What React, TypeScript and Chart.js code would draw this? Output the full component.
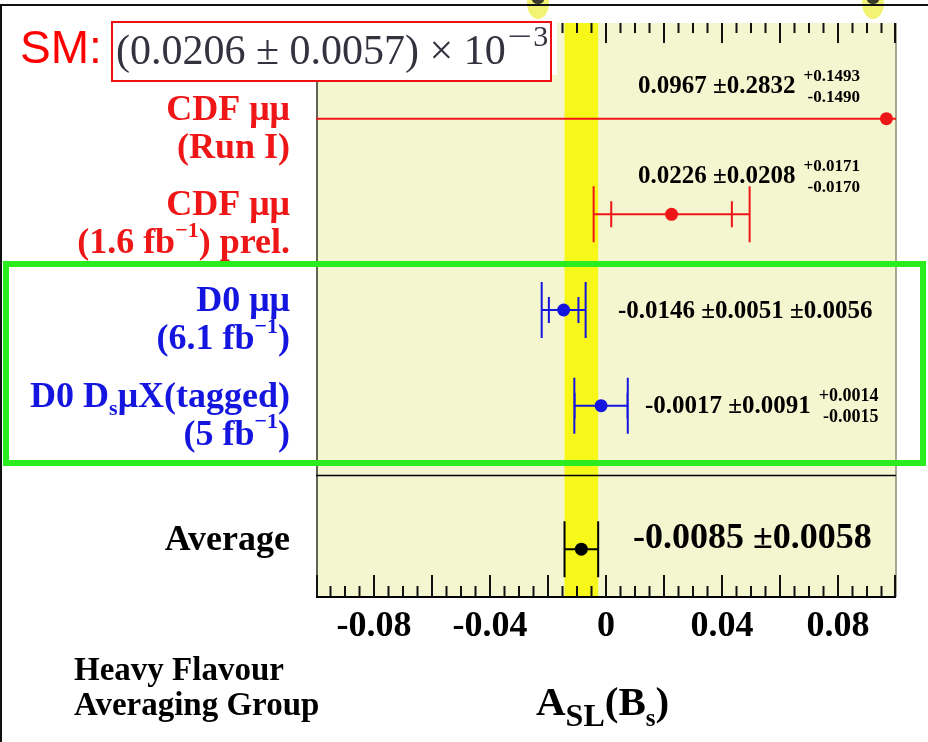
import React, { useEffect, useRef } from 'react';
import { Chart, registerables } from 'chart.js';

Chart.register(...registerables);

// A_SL(B_s) measurements and their average
const centralValues = [0.0967, 0.0226, -0.0146, -0.0017, -0.0085];
const statErrors = [0.2832, 0.0208, 0.0051, 0.0091, 0.0058];
const systErrorsUp = [0.1493, 0.0171, 0.0056, 0.0014, 0];
const systErrorsDown = [0.149, 0.017, 0.0056, 0.0015, 0];
const rowPositions = [1, 2, 3, 4, 5.5];
const rowColors = ['#ee1616', '#ee1616', '#1515e0', '#1515e0', '#000000'];
const separatorPosition = 4.73;

const axisTickLabels = [-0.08, -0.04, 0, 0.04, 0.08];
const majorTickStep = 0.02;
const minorTickStep = 0.005;
const xMin = -0.1;
const xMax = 0.1;

const smPrediction = '(0.0206 ± 0.0057) × 10';
const smExponent = '−3';

type Seg = { t: string; mode?: 'sup' | 'sub' };
const labelLines: Seg[][][] = [
  [[{ t: 'CDF μμ' }], [{ t: '(Run I)' }]],
  [[{ t: 'CDF μμ' }], [{ t: '(1.6 fb' }, { t: '−1', mode: 'sup' }, { t: ') prel.' }]],
  [[{ t: 'D0 μμ' }], [{ t: '(6.1 fb' }, { t: '−1', mode: 'sup' }, { t: ')' }]],
  [[{ t: 'D0 D' }, { t: 's', mode: 'sub' }, { t: 'μX(tagged)' }], [{ t: '(5 fb' }, { t: '−1', mode: 'sup' }, { t: ')' }]],
  [[{ t: 'Average' }]],
];

const fmt = (v: number) => v.toFixed(4);
const SERIF = '"Liberation Serif", "Times New Roman", serif';

function drawRich(ctx: CanvasRenderingContext2D, segs: Seg[], xRight: number, base: number, size: number, color: string) {
  const fontFor = (s: Seg) => `bold ${s.mode ? Math.round(size * 0.6) : size}px ${SERIF}`;
  let total = 0;
  const widths = segs.map((s) => {
    ctx.font = fontFor(s);
    const w = ctx.measureText(s.t).width;
    total += w;
    return w;
  });
  let x = xRight - total;
  ctx.fillStyle = color;
  ctx.textAlign = 'left';
  ctx.textBaseline = 'alphabetic';
  segs.forEach((s, i) => {
    ctx.font = fontFor(s);
    const dy = s.mode === 'sup' ? -size * 0.45 : s.mode === 'sub' ? size * 0.22 : 0;
    ctx.fillText(s.t, x, base + dy);
    x += widths[i];
  });
}

const hfagPlugin = {
  id: 'hfagDecor',
  beforeDatasetsDraw(chart: any) {
    const { ctx, chartArea: a, scales } = chart;
    const x = scales.x;
    const y = scales.y;
    ctx.save();
    // plot background
    ctx.fillStyle = '#f4f6d0';
    ctx.fillRect(a.left, a.top, a.right - a.left, a.bottom - a.top);
    // average +- 1 sigma band
    const ai = centralValues.length - 1;
    const b0 = x.getPixelForValue(centralValues[ai] - statErrors[ai]);
    const b1 = x.getPixelForValue(centralValues[ai] + statErrors[ai]);
    ctx.fillStyle = '#f7f71a';
    ctx.fillRect(b0, a.top, b1 - b0, a.bottom - a.top);

    // frame
    ctx.strokeStyle = '#8c8c78';
    ctx.lineWidth = 1.5;
    ctx.beginPath();
    ctx.moveTo(a.right, a.top);
    ctx.lineTo(a.right, a.bottom);
    ctx.stroke();
    ctx.strokeStyle = '#000';
    ctx.lineWidth = 1.2;
    ctx.beginPath();
    ctx.moveTo(a.left + 1, a.top);
    ctx.lineTo(a.left + 1, a.bottom);
    ctx.stroke();
    ctx.lineWidth = 2;
    ctx.beginPath();
    ctx.moveTo(a.left, a.bottom);
    ctx.lineTo(a.right, a.bottom);
    ctx.stroke();

    // ticks on bottom and top edges
    const n = Math.round((xMax - xMin) / minorTickStep);
    const per = Math.round(majorTickStep / minorTickStep);
    ctx.strokeStyle = '#111';
    ctx.lineWidth = 2;
    for (let i = 0; i <= n; i++) {
      const v = xMin + i * minorTickStep;
      const px = Math.min(Math.max(x.getPixelForValue(v), a.left + 1), a.right - 1);
      const major = i % per === 0;
      ctx.beginPath();
      ctx.moveTo(px, a.bottom);
      ctx.lineTo(px, a.bottom - (major ? 22 : 11));
      ctx.moveTo(px, a.top);
      ctx.lineTo(px, a.top + (major ? 20 : 10));
      ctx.stroke();
    }

    // separator between measurements and average
    const sy = y.getPixelForValue(separatorPosition);
    ctx.lineWidth = 1.5;
    ctx.strokeStyle = '#000';
    ctx.beginPath();
    ctx.moveTo(a.left, sy);
    ctx.lineTo(a.right, sy);
    ctx.stroke();

    // error bars: inner caps = stat, outer caps = total
    ctx.beginPath();
    ctx.rect(a.left, a.top, a.right - a.left, a.bottom - a.top);
    ctx.clip();
    centralValues.forEach((c, i) => {
      const py = y.getPixelForValue(rowPositions[i]);
      const tUp = Math.hypot(statErrors[i], systErrorsUp[i]);
      const tDn = Math.hypot(statErrors[i], systErrorsDown[i]);
      const lo = x.getPixelForValue(c - tDn);
      const hi = x.getPixelForValue(c + tUp);
      ctx.strokeStyle = rowColors[i];
      ctx.lineWidth = 2;
      ctx.beginPath();
      ctx.moveTo(lo, py);
      ctx.lineTo(hi, py);
      ctx.moveTo(lo, py - 28);
      ctx.lineTo(lo, py + 28);
      ctx.moveTo(hi, py - 28);
      ctx.lineTo(hi, py + 28);
      if (systErrorsUp[i] > 0) {
        const sl = x.getPixelForValue(c - statErrors[i]);
        const sh = x.getPixelForValue(c + statErrors[i]);
        ctx.moveTo(sl, py - 13);
        ctx.lineTo(sl, py + 13);
        ctx.moveTo(sh, py - 13);
        ctx.lineTo(sh, py + 13);
      }
      ctx.stroke();
    });
    ctx.restore();
  },
  afterDraw(chart: any) {
    const { ctx, chartArea: a, scales } = chart;
    const x = scales.x;
    const y = scales.y;
    ctx.save();
    ctx.textBaseline = 'alphabetic';

    // measurement labels on the left
    labelLines.forEach((lines, i) => {
      const py = y.getPixelForValue(rowPositions[i]);
      lines.forEach((segs, k) => {
        drawRich(ctx, segs, 290, py + 1 + k * 38, 36, i === 4 ? '#000' : rowColors[i]);
      });
    });

    // value annotations
    const valueX = [638, 638, 618, 645, 633];
    const valueDy = [-26, -31, 8, 7, -1];
    const splitSize = [17, 17, 17, 18, 17];
    centralValues.forEach((c, i) => {
      const py = y.getPixelForValue(rowPositions[i]);
      const avg = i === centralValues.length - 1;
      const size = avg ? 36 : 25;
      let main = `${fmt(c)} ±${fmt(statErrors[i])}`;
      const symSyst = systErrorsUp[i] > 0 && systErrorsUp[i] === systErrorsDown[i];
      if (symSyst) main += ` ±${fmt(systErrorsUp[i])}`;
      ctx.font = `bold ${size}px ${SERIF}`;
      ctx.fillStyle = '#000';
      ctx.textAlign = 'left';
      const base = py + valueDy[i];
      ctx.fillText(main, valueX[i], base);
      if (systErrorsUp[i] > 0 && !symSyst) {
        const w = ctx.measureText(main).width;
        ctx.font = `bold ${splitSize[i]}px ${SERIF}`;
        const up = `+${fmt(systErrorsUp[i])}`;
        const dn = `-${fmt(systErrorsDown[i])}`;
        const right = valueX[i] + w + 8 + Math.max(ctx.measureText(up).width, ctx.measureText(dn).width);
        ctx.textAlign = 'right';
        ctx.fillText(up, right, base - 12);
        ctx.fillText(dn, right, base + 9);
      }
    });

    // axis tick labels
    ctx.font = `bold 36px ${SERIF}`;
    ctx.textAlign = 'center';
    ctx.fillStyle = '#000';
    axisTickLabels.forEach((v) => {
      const s = v === 0 ? '0' : String(v);
      ctx.fillText(s, x.getPixelForValue(v), a.bottom + 39);
    });

    // group name
    ctx.textAlign = 'left';
    ctx.font = `bold 33px ${SERIF}`;
    ctx.fillText('Heavy Flavour', 74, 680);
    ctx.fillText('Averaging Group', 74, 715);

    // axis title A_SL(B_s)
    let ax = 536;
    const titleSegs: [string, number, number][] = [
      ['A', 41, 0],
      ['SL', 32, 11],
      ['(B', 41, 0],
      ['s', 25, 11],
      [')', 41, 0],
    ];
    titleSegs.forEach(([t, sz, dy]) => {
      ctx.font = `bold ${sz}px ${SERIF}`;
      ctx.fillText(t, ax, 715 + dy);
      ax += ctx.measureText(t).width;
    });

    // SM prediction box (covers the top-left corner of the plot)
    ctx.fillStyle = '#ffffff';
    ctx.fillRect(a.left - 4, 6, 557 - (a.left - 4), 75 - 6);
    ctx.fillRect(112, 22, 551 - 112, 81 - 22);
    ctx.strokeStyle = '#ee1111';
    ctx.lineWidth = 2;
    ctx.strokeRect(112, 22, 551 - 112, 81 - 22);
    ctx.fillStyle = '#ff0000';
    ctx.font = '46px "Liberation Sans", Arial, sans-serif';
    ctx.fillText('SM:', 20, 63);
    ctx.fillStyle = '#33333f';
    ctx.font = `42px ${SERIF}`;
    ctx.fillText(smPrediction, 116, 64);
    const fw = ctx.measureText(smPrediction).width;
    ctx.font = `30px ${SERIF}`;
    ctx.save();
    ctx.translate(116 + fw + 2, 46);
    ctx.scale(1.45, 1);
    ctx.fillText(smExponent.charAt(0), 0, 0);
    ctx.restore();
    ctx.fillText(smExponent.slice(1), 116 + fw + 2 + ctx.measureText(smExponent.charAt(0)).width * 1.45 + 1, 46);

    // highlight box around the D0 measurements
    ctx.strokeStyle = '#2bec1f';
    ctx.lineWidth = 6;
    ctx.strokeRect(6, 264, 917, 199);

    // slide edges and clipped markers at the top
    ctx.fillStyle = 'rgba(240,240,90,0.85)';
    [538, 873].forEach((cx) => {
      ctx.beginPath();
      ctx.ellipse(cx, 3, 11, 16, 0, 0, Math.PI * 2);
      ctx.fill();
    });
    ctx.fillStyle = '#3a3a2a';
    [538, 873].forEach((cx) => {
      ctx.beginPath();
      ctx.ellipse(cx, 0, 6, 4, 0, 0, Math.PI * 2);
      ctx.fill();
    });
    ctx.fillStyle = '#111';
    ctx.fillRect(0, 4, 928, 2);
    ctx.fillRect(0, 4, 2, 738);
    ctx.restore();
  },
};

export default function App() {
  const ref = useRef<HTMLCanvasElement | null>(null);
  useEffect(() => {
    const canvas = ref.current;
    if (!canvas) return;
    const chart = new Chart(canvas, {
      type: 'scatter',
      data: {
        datasets: [
          {
            data: centralValues.map((v, i) => ({ x: v, y: rowPositions[i] })),
            pointBackgroundColor: rowColors,
            pointBorderWidth: 0,
            pointRadius: 6.5,
            showLine: false,
          },
        ],
      },
      options: {
        animation: false,
        responsive: false,
        devicePixelRatio: 1,
        layout: { padding: { left: 316, right: 32, top: 23, bottom: 145 } },
        plugins: { legend: { display: false }, tooltip: { enabled: false } },
        scales: {
          x: { type: 'linear', min: xMin, max: xMax, display: false },
          y: { type: 'linear', min: 0, max: 6, reverse: true, display: false },
        },
      },
      plugins: [hfagPlugin],
    });
    return () => chart.destroy();
  }, []);
  return (
    <div style={{ position: 'absolute', left: 0, top: 0, width: 928, height: 742, background: '#fff' }}>
      <canvas ref={ref} width={928} height={742} style={{ display: 'block' }} />
    </div>
  );
}
